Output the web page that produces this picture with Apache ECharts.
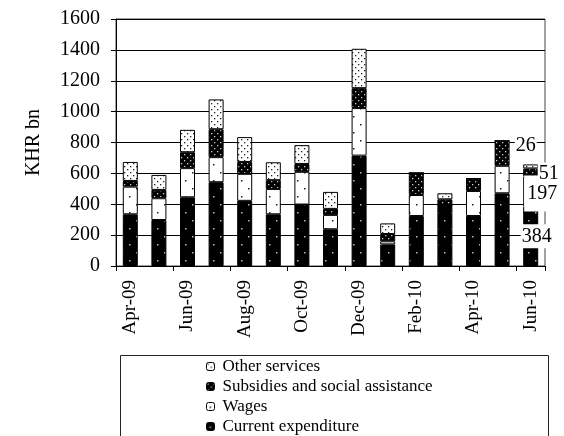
<!DOCTYPE html>
<html><head><meta charset="utf-8">
<script src="https://cdn.jsdelivr.net/npm/echarts@6/dist/echarts.min.js"></script>
<style>html,body{margin:0;padding:0;background:#fff}#c{width:564px;height:436px}</style>
</head><body><div id="c"></div>
<script>
const months = ['Apr-09','May-09','Jun-09','Jul-09','Aug-09','Sep-09','Oct-09','Nov-09','Dec-09','Jan-10','Feb-10','Mar-10','Apr-10','May-10','Jun-10'];
const currentExp = [335,298,445,543,422,335,398,238,715,140,324,395,324,471,384];
const wages      = [179,141,189,162,175,164,212,93,308,20,136,0,162,178,197];
const subsidies  = [37,54,103,181,77,57,51,39,129,47,143,37,80,162,51];
const otherServ  = [123,97,145,193,161,116,122,110,255,69,0,39,0,0,26];
const seriesNames = ['Current expenditure','Wages','Subsidies and social assistance','Other services'];
const yTicks = {min:0, max:1600, interval:200};

function pattern(w,h,bg,fg,dots,r){
  const c=document.createElement('canvas');c.width=w;c.height=h;
  const g=c.getContext('2d');g.fillStyle=bg;g.fillRect(0,0,w,h);
  g.fillStyle=fg;
  dots.forEach(d=>{g.fillRect(d[0],d[1],r,r);});
  return {image:c,repeat:'repeat'};
}
const pCurrent = pattern(14,16,'#000','#bbb',[[3,4],[10,12]],1.5);
const pWages   = pattern(14,16,'#fff','#222',[[3,4],[10,12]],1.5);
const pSubs    = pattern(6,6,'#000','#ccc',[[1,1],[4,4]],1.3);
const pOther   = pattern(6,6,'#fff','#222',[[1,1],[4,4]],1.3);

const FONT='Liberation Serif';
const last = months.length-1;
function withLabel(arr, offset, pad){
  return arr.map((v,i)=> i===last ? {value:v, label:{show:true, position:'inside', offset:offset,
    color:'#000', fontFamily:FONT, fontSize:20, backgroundColor:'#fff', padding:pad,
    formatter:String(v)}} : v);
}
function bar(name,data,col,offset,pad){
  return {name:name,type:'bar',stack:'s',barWidth:15,data:withLabel(data,offset,pad),
    itemStyle:{color:col,borderColor:'#000',borderWidth:1},
    emphasis:{disabled:true}, z:2};
}
const chart=echarts.init(document.getElementById('c'),null,{renderer:'canvas'});
chart.setOption({
  animation:false,
  backgroundColor:'#fff',
  grid:{left:116,right:19,top:19,bottom:170,show:true,borderColor:'#444',borderWidth:1,backgroundColor:'transparent'},
  xAxis:{type:'category',data:months,
    axisLine:{lineStyle:{color:'#000',width:1}},
    axisTick:{show:true,interval:1,length:5,lineStyle:{color:'#000'}},
    axisLabel:{interval:1,rotate:90,margin:14,color:'#000',fontFamily:FONT,fontSize:19}},
  yAxis:{type:'value',min:yTicks.min,max:yTicks.max,interval:yTicks.interval,
    name:'KHR bn',nameLocation:'middle',nameGap:72,
    nameTextStyle:{color:'#000',fontFamily:FONT,fontSize:20},
    axisLine:{show:true,lineStyle:{color:'#000'}},
    axisTick:{show:true,length:5,lineStyle:{color:'#000'}},
    axisLabel:{margin:16,color:'#000',fontFamily:FONT,fontSize:20,formatter:v=>String(v)},
    splitLine:{show:true,lineStyle:{color:'#000',width:1}}},
  legend:{orient:'vertical',left:206,top:358,padding:0,itemWidth:8,itemHeight:8,itemGap:3,
    data:['Other services','Subsidies and social assistance','Wages','Current expenditure'],
    textStyle:{color:'#000',fontFamily:FONT,fontSize:17,lineHeight:17,padding:[0,0,0,3]},
    itemStyle:{borderColor:'#000',borderWidth:1}},
  graphic:[{type:'rect',shape:{x:120.5,y:355.5,width:428,height:100},style:{fill:'none',stroke:'#222',lineWidth:1},z:-1}],
  series:[
    bar(seriesNames[0],currentExp,pCurrent,[6,0],[3,1,1,1]),
    bar(seriesNames[1],wages,pWages,[11,2],[12,2,4,3]),
    bar(seriesNames[2],subsidies,pSubs,[18,1],[1,1,1,1]),
    bar(seriesNames[3],otherServ,pOther,[-5,-21],[3,1,1,1])
  ]
});
</script></body></html>
